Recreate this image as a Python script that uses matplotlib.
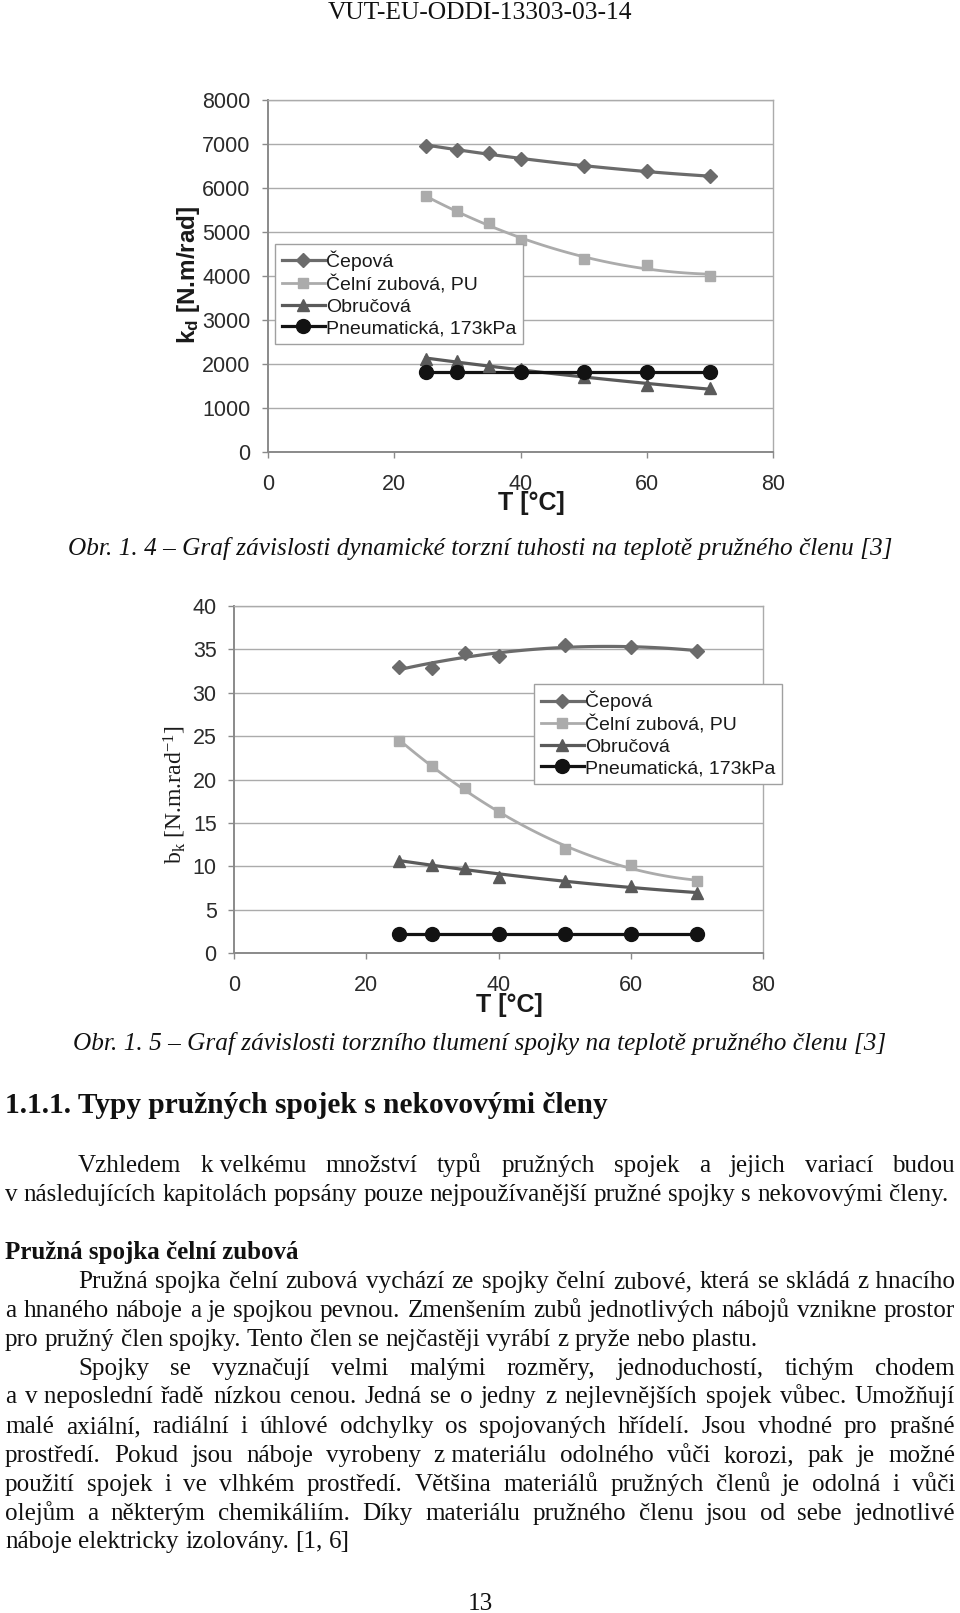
import numpy as np
import matplotlib
matplotlib.use('Agg')
import matplotlib.pyplot as plt
from matplotlib.lines import Line2D

# --- data ---
T_ALL = [25, 30, 35, 40, 50, 60, 70]
T_PNEU = [25, 30, 40, 50, 60, 70]

KD_CEPOVA = [6965, 6875, 6795, 6660, 6495, 6380, 6270]
KD_CELNI = [5810, 5470, 5195, 4815, 4385, 4255, 4005]
KD_OBRUC = [2110, 2060, 1960, 1890, 1700, 1520, 1450]
KD_PNEU = [1820, 1820, 1820, 1820, 1820, 1820]

BK_CEPOVA = [33.0, 32.8, 34.6, 34.2, 35.5, 35.3, 34.8]
BK_CELNI = [24.4, 21.6, 19.0, 16.2, 12.0, 10.1, 8.3]
BK_OBRUC = [10.6, 10.2, 9.8, 8.8, 8.3, 7.7, 6.9]
BK_PNEU = [2.2, 2.2, 2.2, 2.2, 2.2, 2.2]

SERIES_NAMES = ['Čepová', 'Čelní zubová, PU', 'Obručová', 'Pneumatická, 173kPa']
X_TICKS = [0, 20, 40, 60, 80]

# styles per series: marker, marker size, colour, line width
STYLES = [('D', 7.6, '#6b6b6b', 2.3),
          ('s', 7.6, '#ababab', 2.0),
          ('^', 9.2, '#5a5a5a', 2.3),
          ('o', 10.0, '#121212', 2.3)]

SANS = 'Liberation Sans'
SERIF = 'Liberation Serif'
W, H = 960, 1613

plt.rcParams['mathtext.fontset'] = 'custom'
plt.rcParams['mathtext.rm'] = SERIF
plt.rcParams['mathtext.sf'] = SANS
plt.rcParams['mathtext.bf'] = 'Liberation Sans:bold'
plt.rcParams['mathtext.it'] = 'Liberation Serif:italic'

fig = plt.figure(figsize=(9.6, 16.13), dpi=100)
fig.patch.set_facecolor('white')
renderer = fig.canvas.get_renderer()


def fx(px):
    return px / W


def fy(py):
    return 1 - py / H


def draw_chart(box, xs, ys_list, ylim, ystep, ylabel, ylabel_kw, ylab_xy,
               xlab_xy, leg_anchor, tick_size):
    left, top, right, bottom = box
    ax = fig.add_axes([fx(left), fy(bottom), (right - left) / W, (bottom - top) / H])
    handles = []
    for x, y, (mk, ms, col, lw) in zip(xs, ys_list, STYLES):
        # excel-like polynomial trendline through the points
        coef = np.polyfit(x, y, 2)
        xx = np.linspace(min(x), max(x), 120)
        ax.plot(xx, np.polyval(coef, xx), color=col, lw=lw, zorder=3)
        ax.plot(x, y, linestyle='none', marker=mk, ms=ms, color=col,
                markeredgecolor=col, zorder=4)
        handles.append(Line2D([], [], color=col, lw=lw, marker=mk, ms=ms))

    ax.set_xlim(0, 80)
    ax.set_ylim(*ylim)
    ax.set_xticks(X_TICKS)
    ax.set_yticks(np.arange(ylim[0], ylim[1] + ystep / 2, ystep))
    ax.yaxis.grid(True, color='#ababab', lw=1.0)
    ax.xaxis.grid(False)
    ax.set_axisbelow(True)
    for s in ['left', 'bottom']:
        ax.spines[s].set_color('#8a8a8a')
        ax.spines[s].set_linewidth(1.4)
    for s in ['right', 'top']:
        ax.spines[s].set_color('#ababab')
        ax.spines[s].set_linewidth(1.0)
    ax.tick_params(direction='out', length=4.5, width=1, color='#8a8a8a',
                   labelsize=tick_size, labelcolor='#2b2b2b')
    ax.tick_params(axis='y', pad=8)
    ax.tick_params(axis='x', pad=11)
    for lab in ax.get_xticklabels() + ax.get_yticklabels():
        lab.set_family(SANS)

    ax.text(ylab_xy[0], ylab_xy[1], ylabel, transform=ax.transAxes, rotation=90,
            ha='center', va='center', color='#1a1a1a', **ylabel_kw)
    ax.text(xlab_xy[0], xlab_xy[1], 'T [°C]', transform=ax.transAxes,
            ha='center', va='center', fontsize=18, fontweight='bold',
            family=SANS, color='#1a1a1a')

    leg = ax.legend(handles, SERIES_NAMES, loc='upper left', bbox_to_anchor=leg_anchor,
                    borderaxespad=0, frameon=True, fancybox=False, framealpha=1,
                    edgecolor='#a0a0a0', prop={'family': SANS, 'size': 14},
                    handlelength=2.2, handletextpad=0.08, labelspacing=0.2,
                    borderpad=0.35)
    leg.get_frame().set_linewidth(1.0)
    for t in leg.get_texts():
        t.set_color('#1a1a1a')
    return ax


# chart 1: dynamic torsional stiffness
draw_chart((268, 100, 773, 452),
           [T_ALL, T_ALL, T_ALL, T_PNEU],
           [KD_CEPOVA, KD_CELNI, KD_OBRUC, KD_PNEU],
           (0, 8000), 1000,
           r'k$_\mathbf{d}$ [N.m/rad]',
           dict(fontsize=17.5, fontweight='bold', family=SANS),
           (-0.158, 0.503), (0.521, -0.146), (0.014, 0.591), 15.5)

# chart 2: torsional damping
draw_chart((234, 606, 763, 953),
           [T_ALL, T_ALL, T_ALL, T_PNEU],
           [BK_CEPOVA, BK_CELNI, BK_OBRUC, BK_PNEU],
           (0, 40), 5,
           r'b$_\mathrm{k}$ [N.m.rad$^{\mathrm{-1}}$]',
           dict(fontsize=17, family=SERIF),
           (-0.112, 0.455), (0.52, -0.15), (0.567, 0.775), 15.5)


# --- page text ---
def text_width(s, **kw):
    t = fig.text(0, 0, s, **kw)
    w = t.get_window_extent(renderer).width
    t.remove()
    return w


def fit_size(s, target, **kw):
    return 18 * target / text_width(s, fontsize=18, **kw)


def put_line(words, x0, x1, baseline, size, justify, **kw):
    widths = [text_width(w, fontsize=size, **kw) for w in words]
    space = text_width('a a', fontsize=size, **kw) - text_width('aa', fontsize=size, **kw)
    if justify and len(words) > 1:
        gap = (x1 - x0 - sum(widths)) / (len(words) - 1)
    else:
        gap = space
    x = x0
    for w, wd in zip(words, widths):
        fig.text(fx(x), fy(baseline), w, fontsize=size, ha='left', va='baseline',
                 color='#111111', **kw)
        x += wd + gap


header = 'VUT-EU-ODDI-13303-03-14'
hs = fit_size(header, 305, family=SERIF)
fig.text(fx(480), fy(13), header, fontsize=hs, family=SERIF, ha='center',
         va='center', color='#111111')

cap1 = 'Obr. 1. 4 – Graf závislosti dynamické torzní tuhosti na teplotě pružného členu [3]'
cap2 = 'Obr. 1. 5 – Graf závislosti torzního tlumení spojky na teplotě pružného členu [3]'
cs = fit_size(cap1, 823, family=SERIF, style='italic')
fig.text(fx(480), fy(555), cap1, fontsize=cs, family=SERIF, style='italic',
         ha='center', va='baseline', color='#111111')
fig.text(fx(480), fy(1050), cap2, fontsize=cs, family=SERIF, style='italic',
         ha='center', va='baseline', color='#111111')

heading = '1.1.1. Typy pružných spojek s nekovovými členy'
hds = fit_size(heading, 602, family=SERIF, weight='bold')
fig.text(fx(5), fy(1113), heading, fontsize=hds, family=SERIF, weight='bold',
         ha='left', va='baseline', color='#111111')

sub = 'Pružná spojka čelní zubová'
ss = fit_size(sub, 293, family=SERIF, weight='bold')
fig.text(fx(5), fy(1259), sub, fontsize=ss, family=SERIF, weight='bold',
         ha='left', va='baseline', color='#111111')

body_ref = 'v následujících kapitolách popsány pouze nejpoužívanější pružné spojky s nekovovými členy.'
bs = fit_size(body_ref, 944, family=SERIF)

# (text, indent, justified, baseline y); '~' marks a space that does not stretch
BODY = [
    ('Vzhledem k~velkému množství typů pružných spojek a jejich variací budou', True, True, 1172),
    (body_ref, False, False, 1201),
    ('Pružná spojka čelní zubová vychází ze spojky čelní zubové, která se skládá z~hnacího', True, True, 1288),
    ('a hnaného náboje a je spojkou pevnou. Zmenšením zubů jednotlivých nábojů vznikne prostor', False, True, 1317),
    ('pro pružný člen spojky. Tento člen se nejčastěji vyrábí z pryže nebo plastu.', False, False, 1346),
    ('Spojky se vyznačují velmi malými rozměry, jednoduchostí, tichým chodem', True, True, 1375),
    ('a v~neposlední řadě nízkou cenou. Jedná se o jedny z nejlevnějších spojek vůbec. Umožňují', False, True, 1403),
    ('malé axiální, radiální i úhlové odchylky os spojovaných hřídelí. Jsou vhodné pro prašné', False, True, 1433),
    ('prostředí. Pokud jsou náboje vyrobeny z~materiálu odolného vůči korozi, pak je možné', False, True, 1462),
    ('použití spojek i ve vlhkém prostředí. Většina materiálů pružných členů je odolná i vůči', False, True, 1491),
    ('olejům a některým chemikáliím. Díky materiálu pružného členu jsou od sebe jednotlivé', False, True, 1520),
    ('náboje elektricky izolovány. [1, 6]', False, False, 1548),
]

for line, indent, just, base in BODY:
    words = [w.replace('~', ' ') for w in line.split(' ')]
    put_line(words, 78 if indent else 5, 955, base, bs, just, family=SERIF)

fig.text(fx(480), fy(1610), '13', fontsize=bs, family=SERIF, ha='center',
         va='baseline', color='#111111')

fig.savefig('out.png', dpi=100, facecolor='white')
